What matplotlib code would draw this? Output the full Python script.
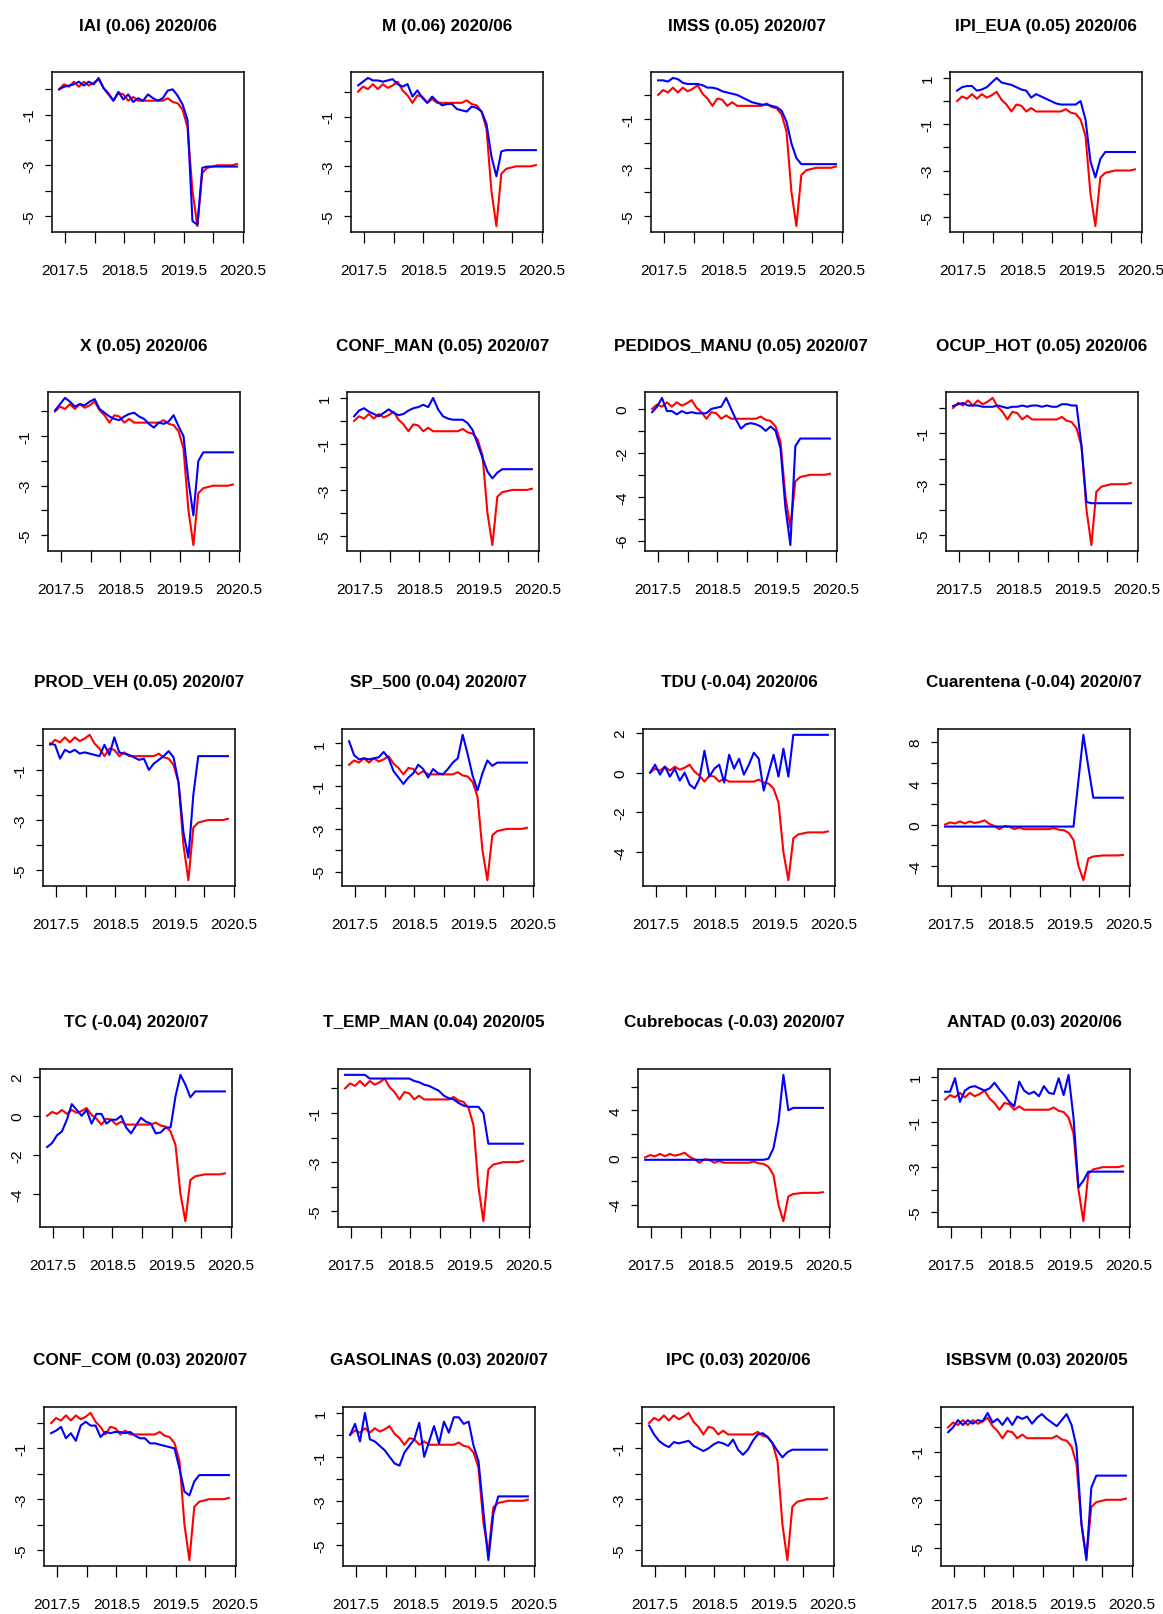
import numpy as np
import matplotlib
matplotlib.use("Agg")
import matplotlib.pyplot as plt
from matplotlib import font_manager

# ---- data -------------------------------------------------------------
# monthly observations starting at 2017.4 (37 months)
T_START = 2017.4
N_MONTHS = 37

names = ["IAI", "M", "IMSS", "IPI_EUA",
         "X", "CONF_MAN", "PEDIDOS_MANU", "OCUP_HOT",
         "PROD_VEH", "SP_500", "TDU", "Cuarentena",
         "TC", "T_EMP_MAN", "Cubrebocas", "ANTAD",
         "CONF_COM", "GASOLINAS", "IPC", "ISBSVM"]
coefs = ["0.06", "0.06", "0.05", "0.05",
         "0.05", "0.05", "0.05", "0.05",
         "0.05", "0.04", "-0.04", "-0.04",
         "-0.04", "0.04", "-0.03", "0.03",
         "0.03", "0.03", "0.03", "0.03"]
dates = ["2020/06", "2020/06", "2020/07", "2020/06",
         "2020/06", "2020/07", "2020/07", "2020/06",
         "2020/07", "2020/07", "2020/06", "2020/07",
         "2020/07", "2020/05", "2020/07", "2020/06",
         "2020/07", "2020/07", "2020/06", "2020/05"]

# target series (red), same in every panel
igae = [0.0, 0.2, 0.1, 0.3, 0.1, 0.3, 0.15, 0.25, 0.4, 0.05,
        -0.15, -0.45, -0.15, -0.2, -0.45, -0.3, -0.45, -0.45, -0.45, -0.45,
        -0.45, -0.45, -0.35, -0.5, -0.55, -0.8, -1.5, -4.0, -5.4, -3.3,
        -3.1, -3.05, -3.0, -3.0, -3.0, -3.0, -2.95]

# standardized indicators (blue)
iai = [0.0, 0.1, 0.15, 0.2, 0.3, 0.15, 0.3, 0.2, 0.45, 0.05,
       -0.2, -0.45, -0.1, -0.4, -0.2, -0.5, -0.35, -0.45, -0.2, -0.35,
       -0.45, -0.35, -0.05, 0.0, -0.25, -0.6, -1.2, -5.2, -5.35, -3.1,
       -3.05, -3.05, -3.05, -3.05, -3.05, -3.05, -3.05]
m = [0.25, 0.4, 0.55, 0.45, 0.45, 0.4, 0.45, 0.5, 0.3, 0.2,
     0.3, -0.2, 0.05, -0.25, -0.45, -0.2, -0.4, -0.55, -0.5, -0.5,
     -0.7, -0.75, -0.8, -0.6, -0.65, -0.8, -1.3, -2.6, -3.4, -2.4,
     -2.35, -2.35, -2.35, -2.35, -2.35, -2.35, -2.35]
imss = [0.6, 0.6, 0.55, 0.7, 0.65, 0.5, 0.45, 0.45, 0.45, 0.4,
        0.3, 0.3, 0.25, 0.15, 0.1, 0.05, 0.0, -0.1, -0.2, -0.3,
        -0.35, -0.4, -0.4, -0.45, -0.5, -0.65, -1.1, -2.0, -2.6, -2.85,
        -2.85, -2.85, -2.85, -2.85, -2.85, -2.85, -2.85]
ipi_eua = [0.45, 0.6, 0.65, 0.65, 0.45, 0.5, 0.6, 0.8, 1.0, 0.8,
           0.75, 0.7, 0.6, 0.5, 0.45, 0.15, 0.3, 0.2, 0.1, 0.0,
           -0.1, -0.15, -0.15, -0.15, -0.15, 0.0, -0.8, -2.6, -3.3, -2.5,
           -2.2, -2.2, -2.2, -2.2, -2.2, -2.2, -2.2]
x_exp = [0.05, 0.3, 0.55, 0.4, 0.2, 0.3, 0.25, 0.4, 0.5, 0.1,
         -0.05, -0.2, -0.3, -0.35, -0.2, -0.1, -0.05, -0.2, -0.3, -0.5,
         -0.65, -0.45, -0.5, -0.4, -0.15, -0.6, -1.0, -2.8, -4.2, -2.0,
         -1.65, -1.65, -1.65, -1.65, -1.65, -1.65, -1.65]
conf_man = [0.2, 0.45, 0.55, 0.4, 0.3, 0.2, 0.35, 0.5, 0.35, 0.25,
            0.3, 0.45, 0.55, 0.6, 0.7, 0.6, 1.0, 0.5, 0.2, 0.1,
            0.05, 0.05, 0.05, -0.1, -0.4, -1.0, -1.6, -2.2, -2.5, -2.25,
            -2.1, -2.1, -2.1, -2.1, -2.1, -2.1, -2.1]
pedidos_manu = [-0.15, 0.1, 0.5, -0.1, -0.1, -0.25, -0.1, -0.2, -0.15, -0.2,
                -0.2, -0.2, 0.0, 0.05, 0.1, 0.5, 0.0, -0.5, -0.9, -0.7,
                -0.65, -0.7, -0.8, -1.0, -0.8, -1.0, -1.8, -4.5, -6.2, -1.7,
                -1.35, -1.35, -1.35, -1.35, -1.35, -1.35, -1.35]
ocup_hot = [0.08, 0.15, 0.2, 0.1, 0.1, 0.1, 0.05, 0.05, 0.05, 0.1,
            0.05, 0.0, 0.05, 0.05, 0.1, 0.05, 0.1, 0.1, 0.05, 0.1,
            0.05, 0.05, 0.15, 0.15, 0.1, 0.1, -1.5, -3.7, -3.75, -3.75,
            -3.75, -3.75, -3.75, -3.75, -3.75, -3.75, -3.75]
prod_veh = [0.05, 0.0, -0.55, -0.2, -0.3, -0.2, -0.35, -0.3, -0.35, -0.4,
            -0.45, 0.0, -0.4, 0.3, -0.3, -0.35, -0.4, -0.5, -0.6, -0.55,
            -1.0, -0.75, -0.6, -0.45, -0.25, -0.5, -1.5, -3.5, -4.5, -2.0,
            -0.45, -0.45, -0.45, -0.45, -0.45, -0.45, -0.45]
sp_500 = [1.1, 0.45, 0.25, 0.3, 0.25, 0.3, 0.35, 0.6, 0.3, -0.3,
          -0.6, -0.9, -0.6, -0.4, 0.0, -0.2, -0.6, -0.2, -0.4, -0.45,
          -0.2, 0.1, 0.3, 1.4, 0.5, -0.5, -1.2, -0.4, 0.2, -0.05,
          0.1, 0.1, 0.1, 0.1, 0.1, 0.1, 0.1]
tdu = [0.0, 0.4, -0.1, 0.3, -0.2, 0.2, -0.4, 0.0, -0.6, -0.8,
       -0.3, 1.1, -0.2, 0.2, 0.4, -0.5, 0.9, 0.2, 0.7, -0.1,
       0.4, 1.0, 0.7, -0.9, 0.0, 0.9, -0.2, 1.2, -0.2, 1.9,
       1.9, 1.9, 1.9, 1.9, 1.9, 1.9, 1.9]
cuarentena = [-0.2, -0.2, -0.2, -0.2, -0.2, -0.2, -0.2, -0.2, -0.2, -0.2,
              -0.2, -0.2, -0.2, -0.2, -0.2, -0.2, -0.2, -0.2, -0.2, -0.2,
              -0.2, -0.2, -0.2, -0.2, -0.2, -0.2, -0.2, 4.3, 8.7, 5.6,
              2.6, 2.6, 2.6, 2.6, 2.6, 2.6, 2.6]
tc = [-1.6, -1.4, -1.0, -0.8, -0.2, 0.6, 0.3, 0.0, 0.3, -0.4,
      0.1, 0.1, -0.4, -0.2, -0.2, 0.0, -0.6, -0.9, -0.5, -0.1,
      -0.3, -0.4, -0.9, -0.85, -0.6, -0.6, 1.0, 2.1, 1.6, 0.95,
      1.25, 1.25, 1.25, 1.25, 1.25, 1.25, 1.25]
t_emp_man = [0.55, 0.55, 0.55, 0.55, 0.55, 0.4, 0.4, 0.4, 0.4, 0.4,
             0.4, 0.4, 0.4, 0.4, 0.3, 0.25, 0.15, 0.1, 0.0, -0.1,
             -0.3, -0.4, -0.45, -0.6, -0.7, -0.75, -0.75, -0.75, -1.0, -2.25,
             -2.25, -2.25, -2.25, -2.25, -2.25, -2.25, -2.25]
cubrebocas = [-0.2, -0.2, -0.2, -0.2, -0.2, -0.2, -0.2, -0.2, -0.2, -0.2,
              -0.2, -0.2, -0.2, -0.2, -0.2, -0.2, -0.2, -0.2, -0.2, -0.2,
              -0.2, -0.2, -0.2, -0.2, -0.2, -0.1, 0.8, 3.0, 7.0, 4.0,
              4.2, 4.2, 4.2, 4.2, 4.2, 4.2, 4.2]
antad = [0.35, 0.35, 0.95, -0.1, 0.4, 0.55, 0.6, 0.5, 0.4, 0.5,
         0.75, 0.45, 0.2, -0.1, -0.3, 0.8, 0.4, 0.25, 0.35, 0.15,
         0.6, 0.3, 0.25, 0.95, 0.2, 1.1, -0.8, -3.9, -3.6, -3.2,
         -3.2, -3.2, -3.2, -3.2, -3.2, -3.2, -3.2]
conf_com = [-0.4, -0.3, -0.15, -0.6, -0.4, -0.7, -0.1, 0.05, -0.1, -0.1,
            -0.55, -0.35, -0.4, -0.35, -0.35, -0.4, -0.35, -0.5, -0.6, -0.6,
            -0.8, -0.8, -0.85, -0.9, -0.95, -1.0, -1.8, -2.7, -2.85, -2.3,
            -2.05, -2.05, -2.05, -2.05, -2.05, -2.05, -2.05]
gasolinas = [0.0, 0.5, -0.3, 1.0, -0.2, -0.3, -0.5, -0.7, -1.0, -1.3,
             -1.4, -0.8, -0.5, -0.2, 0.55, -1.0, -0.3, 0.4, -0.4, 0.6,
             0.1, 0.8, 0.8, 0.5, 0.6, -0.5, -1.2, -3.5, -5.7, -3.6,
             -2.8, -2.8, -2.8, -2.8, -2.8, -2.8, -2.8]
ipc = [-0.1, -0.45, -0.7, -0.85, -0.95, -0.75, -0.8, -0.75, -0.7, -0.9,
       -1.0, -1.1, -1.0, -0.85, -0.75, -0.8, -0.9, -0.65, -1.05, -1.25,
       -1.05, -0.7, -0.45, -0.4, -0.55, -0.8, -1.1, -1.35, -1.15, -1.05,
       -1.05, -1.05, -1.05, -1.05, -1.05, -1.05, -1.05]
isbsvm = [-0.2, 0.0, 0.3, 0.1, 0.3, 0.15, 0.3, 0.25, 0.6, 0.2,
          0.35, 0.1, 0.4, 0.1, 0.45, 0.35, 0.45, 0.15, 0.4, 0.55,
          0.35, 0.2, 0.05, 0.3, 0.55, 0.1, -0.8, -4.0, -5.5, -2.5,
          -2.0, -2.0, -2.0, -2.0, -2.0, -2.0, -2.0]

indicators = [iai, m, imss, ipi_eua,
              x_exp, conf_man, pedidos_manu, ocup_hot,
              prod_veh, sp_500, tdu, cuarentena,
              tc, t_emp_man, cubrebocas, antad,
              conf_com, gasolinas, ipc, isbsvm]

# ---- layout (pixels of the 1163 x 1615 canvas) ------------------------
W, H = 1163, 1615
row_top = [73, 393, 730, 1070, 1408]
row_bottom = [233, 552, 887, 1228, 1567]
row_lefts = [[52, 351, 651, 950],
             [48, 347, 645, 946],
             [43, 342, 643, 938],
             [40, 338, 638, 938],
             [44, 343, 642, 941]]
BOX_W = 192
TITLE_GAP = 47

available = {f.name for f in font_manager.fontManager.ttflist}
if "Liberation Sans Narrow" in available:
    FONT, FSCALE = "Liberation Sans Narrow", 1.0
else:
    FONT, FSCALE = "Liberation Sans", 0.82
FAMILY = [FONT, "DejaVu Sans"]
TICK_FS = 13.5 * FSCALE
TITLE_FS = 15 * FSCALE


def pretty_step(lo, hi, n=5):
    """Tick spacing chosen the way R's axis() does it."""
    cell = (hi - lo) / n
    u = 10 ** np.floor(np.log10(cell))
    unit = u
    if 2 * u - cell < 0.8 * (cell - unit):
        unit = 2 * u
        if 5 * u - cell < 1.7 * (cell - unit):
            unit = 5 * u
            if 10 * u - cell < 0.8 * (cell - unit):
                unit = 10 * u
    return unit


def r_ticks(lo, hi):
    step = pretty_step(lo, hi)
    first = np.ceil(lo / step - 1e-9) * step
    return np.arange(first, hi + 1e-9, step), step


def thin_labels(ticks, px_per_unit, min_gap, fmt):
    # drop labels that would collide with the previous one, starting low
    labels, last = [], None
    for v in ticks:
        if last is None or (v - last) * px_per_unit >= min_gap:
            labels.append(fmt(v))
            last = v
        else:
            labels.append("")
    return labels


t = T_START + np.arange(N_MONTHS) / 12.0

fig = plt.figure(figsize=(W / 100, H / 100), dpi=100)
fig.patch.set_facecolor("white")

for i, blue in enumerate(indicators):
    r, c = divmod(i, 4)
    left = row_lefts[r][c]
    top, bottom = row_top[r], row_bottom[r]
    ax = fig.add_axes([left / W, 1 - bottom / H, BOX_W / W, (bottom - top) / H])

    ax.plot(t, igae, color="#ff0000", lw=1.5)
    ax.plot(t, blue, color="#0000ff", lw=1.5)

    # R style 4% padding on both axes
    xspan = t[-1] - t[0]
    x0, x1 = t[0] - 0.04 * xspan, t[-1] + 0.04 * xspan
    lo = min(min(igae), min(blue))
    hi = max(max(igae), max(blue))
    y0, y1 = lo - 0.04 * (hi - lo), hi + 0.04 * (hi - lo)
    ax.set_xlim(x0, x1)
    ax.set_ylim(y0, y1)

    xt, xs = r_ticks(x0, x1)
    ax.set_xticks(xt)
    ax.set_xticklabels(thin_labels(xt, BOX_W / (x1 - x0), 50,
                                   lambda v: f"{v:.1f}"),
                       family=FAMILY, fontsize=TICK_FS)
    yt, ys = r_ticks(y0, y1)
    ax.set_yticks(yt)
    ax.set_yticklabels(thin_labels(yt, (bottom - top) / (y1 - y0), 30,
                                   lambda v: f"{int(round(v))}"),
                       family=FAMILY, fontsize=TICK_FS,
                       rotation=90, va="center", ha="right")

    ax.tick_params(axis="x", direction="out", length=8, width=0.9, pad=14)
    ax.tick_params(axis="y", direction="out", length=5, width=0.9, pad=6)
    for s in ax.spines.values():
        s.set_linewidth(1.1)
        s.set_color("black")

    fig.text((left + BOX_W / 2) / W, 1 - (top - TITLE_GAP) / H,
             f"{names[i]} ({coefs[i]}) {dates[i]}",
             ha="center", va="center", family=FAMILY,
             fontsize=TITLE_FS, fontweight="bold")

fig.savefig("out.png", dpi=100)
